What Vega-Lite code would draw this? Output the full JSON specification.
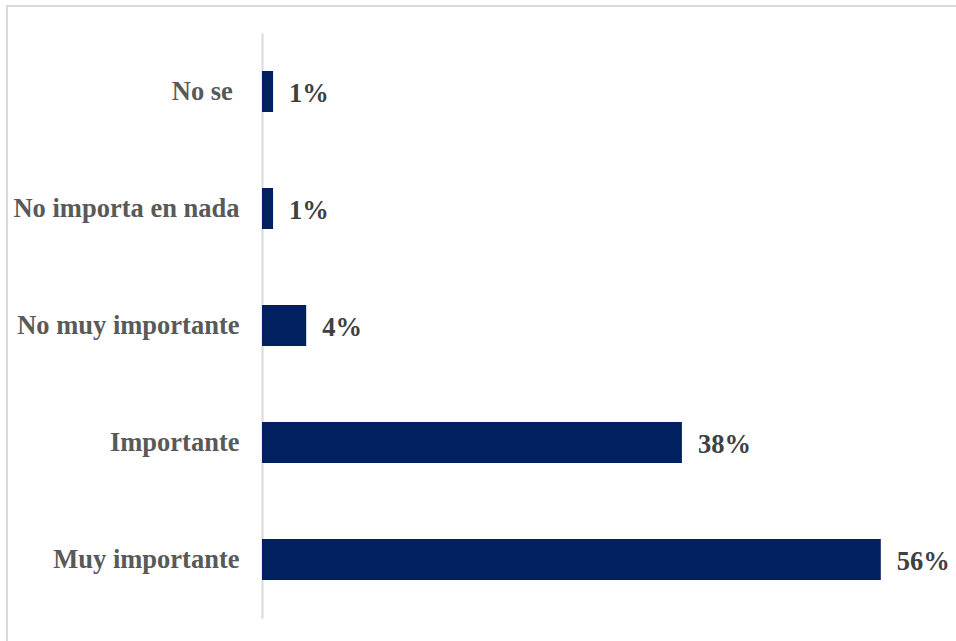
{
  "$schema": "https://vega.github.io/schema/vega-lite/v6.json",
  "autosize": {"type": "none"},
  "padding": {"left": 7, "top": 6, "right": 0, "bottom": 0},
  "width": 960,
  "height": 640,
  "background": "white",
  "config": {
    "view": {"stroke": "#d9d9d9", "strokeWidth": 2},
    "font": "Liberation Serif"
  },
  "data": {
    "values": [
      {"categoria": "No se\u00a0\u200b", "valor": 1, "etiqueta": "1%"},
      {"categoria": "No importa en nada", "valor": 1, "etiqueta": "1%"},
      {"categoria": "No muy importante", "valor": 4, "etiqueta": "4%"},
      {"categoria": "Importante", "valor": 38, "etiqueta": "38%"},
      {"categoria": "Muy importante", "valor": 56, "etiqueta": "56%"}
    ]
  },
  "encoding": {
    "y": {
      "field": "categoria",
      "type": "nominal",
      "sort": null,
      "scale": {"range": [27, 612], "paddingInner": 0.65, "paddingOuter": 0.325},
      "axis": {
        "title": null,
        "offset": -255,
        "ticks": false,
        "grid": false,
        "domain": true,
        "domainColor": "#d9d9d9",
        "domainWidth": 2,
        "labelPadding": 23,
        "labelLimit": 0,
        "labelFont": "Liberation Serif",
        "labelFontSize": 26.5,
        "labelFontWeight": "bold",
        "labelColor": "#595959"
      }
    },
    "x": {
      "field": "valor",
      "type": "quantitative",
      "scale": {"domain": [0, 60], "range": [255, 918], "nice": false},
      "axis": null
    }
  },
  "layer": [
    {"mark": {"type": "bar", "color": "#002060"}},
    {
      "mark": {
        "type": "text",
        "align": "left",
        "baseline": "middle",
        "dx": 16,
        "dy": 2,
        "font": "Liberation Serif",
        "fontSize": 26.5,
        "fontWeight": "bold",
        "color": "#404040"
      },
      "encoding": {"text": {"field": "etiqueta"}}
    }
  ]
}
